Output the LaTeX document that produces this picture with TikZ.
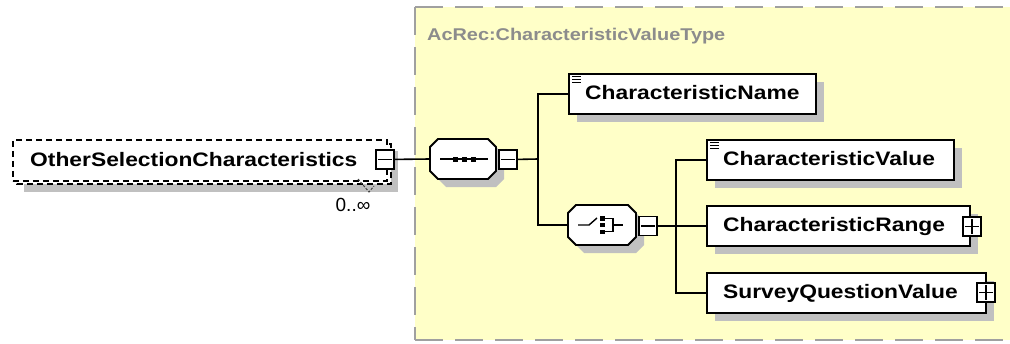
\documentclass[tikz,border=0pt]{standalone}
\usepackage{fontspec}
\newfontfamily\xs{Liberation Sans}[FakeStretch=1.17]
\newfontfamily\xr{Liberation Sans}
\definecolor{grp}{HTML}{FFFFC8}
\definecolor{shd}{HTML}{C0C0C0}
\definecolor{ttl}{HTML}{8C8C8C}
\definecolor{gdash}{HTML}{A0A0A0}
\newcommand\octp[4]{({#1+8},{#2}) -- ({#1+#3-8},{#2}) -- ({#1+#3},{#2+8}) -- ({#1+#3},{#2+#4-8}) -- ({#1+#3-8},{#2+#4}) -- ({#1+8},{#2+#4}) -- ({#1},{#2+#4-8}) -- ({#1},{#2+8}) -- cycle}
\begin{document}
\begin{tikzpicture}[x=1pt,y=-1pt,
  lbl/.style={font=\xs\bfseries\fontsize{19.5}{22}\selectfont, anchor=base west, inner sep=0},
  elbox/.style={draw=black, line width=1.8pt, fill=white, inner sep=0, anchor=north west, minimum height=40pt},
  dbox/.style={draw=black, line width=1.5pt, fill=white, dash pattern=on 6pt off 4pt},
  pm/.style={draw=black, fill=white, line width=1.8pt, minimum width=18pt, minimum height=19pt, inner sep=0, anchor=north west},
  mk/.style={line width=1.6pt},
  conn/.style={line width=1.6pt},
  octo/.style={draw=black, fill=white, line width=1.8pt},
  ghost/.style={draw=none, inner sep=0, minimum height=40pt},
  gline/.style={draw=gdash, line width=2pt, dash pattern=on 28pt off 12pt},
  icon/.style={line width=1pt}
]
\useasboundingbox (0,0) rectangle (1010,343);
% group background
\fill[grp] (415,7) rectangle (1010,340);
\draw[gline] (415,7) -- (1010,7);
\draw[gline] (415,7) -- (415,340);
\draw[gline] (415,340) -- (1010,340);
\node[font=\xs\bfseries\fontsize{17}{20}\selectfont, text=ttl, anchor=base west, inner sep=0] (title) at (427,40) {AcRec:CharacteristicValueType};

% left element (multiple)
\fill[shd] (24,151) rectangle (398,192);
\draw[dbox] (17,144) rectangle (391,184);
\node[dbox, minimum width=374pt, minimum height=41pt, anchor=north west, inner sep=0] (ose) at (12,139) {};
\node[lbl] (oset) at (30,166) {OtherSelectionCharacteristics};
\node[pm] (om) at (375,149) {};
\draw[mk] ([xshift=3pt]om.west) -- ([xshift=-3pt]om.east);
\draw[line width=1pt, dash pattern=on 2.5pt off 1.5pt, black!75] (358,179) -- (369,192) -- (374,186);
\node[font=\xr\fontsize{19}{22}\selectfont, inner sep=0] (occ) at (353,205) {0..∞};

% sequence compositor
\fill[shd] \octp{438}{147}{66}{40};
\draw[octo] \octp{430}{139}{66}{40};
\node[ghost, minimum width=66pt] (seq) at (463,159) {};
\draw[line width=1.4pt] (440,159) -- (488,159);
\fill (452.5,156.5) rectangle +(5,5);
\fill (461.5,156.5) rectangle +(5,5);
\fill (470.5,156.5) rectangle +(5,5);
\node[pm] (seqm) at (498,149) {};
\draw[mk] ([xshift=3pt]seqm.west) -- ([xshift=-3pt]seqm.east);

% choice compositor
\fill[shd] \octp{576}{213}{68}{40};
\draw[octo] \octp{568}{205}{68}{40};
\node[ghost, minimum width=68pt] (cho) at (602,225) {};
\draw[line width=1.4pt] (578,225) -- (589,225) -- (597,218);
\fill (600,216) rectangle +(5,4.5);
\fill (600,222.8) rectangle +(5,4.5);
\fill (600,229.5) rectangle +(5,4.5);
\draw[line width=1.2pt] (605,218.2) -- (613,218.2) -- (613,231.8) -- (605,231.8);
\draw[line width=1.2pt] (613,225) -- (623,225);
\node[pm] (chom) at (638,215.5) {};
\draw[mk] ([xshift=3pt]chom.west) -- ([xshift=-3pt]chom.east);

% child elements
\fill[shd] (577,82) rectangle (824,122);
\node[elbox, minimum width=247pt] (cname) at (568,73) {};
\node[lbl] (cnamet) at (585,99) {CharacteristicName};
\draw[icon] (572,76) -- (581,76) (572,79) -- (581,79) (572,82) -- (581,82);

\fill[shd] (715,148) rectangle (962,188);
\node[elbox, minimum width=247pt] (cval) at (706,139) {};
\node[lbl] (cvalt) at (723,165) {CharacteristicValue};
\draw[icon] (710,142) -- (719,142) (710,145) -- (719,145) (710,148) -- (719,148);

\fill[shd] (715,214) rectangle (978,254);
\node[elbox, minimum width=263pt] (crange) at (706,205) {};
\node[lbl] (cranget) at (723,231) {CharacteristicRange};
\node[pm] (crp) at (962,216) {};
\draw[mk] ([xshift=3pt]crp.west) -- ([xshift=-3pt]crp.east) ([yshift=-3pt]crp.north) -- ([yshift=3pt]crp.south);

\fill[shd] (715,281) rectangle (994,321);
\node[elbox, minimum width=279pt] (survey) at (706,272) {};
\node[lbl] (surveyt) at (723,298) {SurveyQuestionValue};
\node[pm] (svp) at (976,282) {};
\draw[mk] ([xshift=3pt]svp.west) -- ([xshift=-3pt]svp.east) ([yshift=-3pt]svp.north) -- ([yshift=3pt]svp.south);

% connectors
\coordinate (t1) at (538,159);
\coordinate (t2) at (676,225);
\draw[conn] (om.east) -- (seq.west);
\draw[conn] (seqm.east) -- (t1);
\draw[conn] (cname.west) -| (t1) |- (cho.west);
\draw[conn] (chom.east) -- (crange.west);
\draw[conn] (cval.west) -| (t2) |- (survey.west);
\end{tikzpicture}
\end{document}
